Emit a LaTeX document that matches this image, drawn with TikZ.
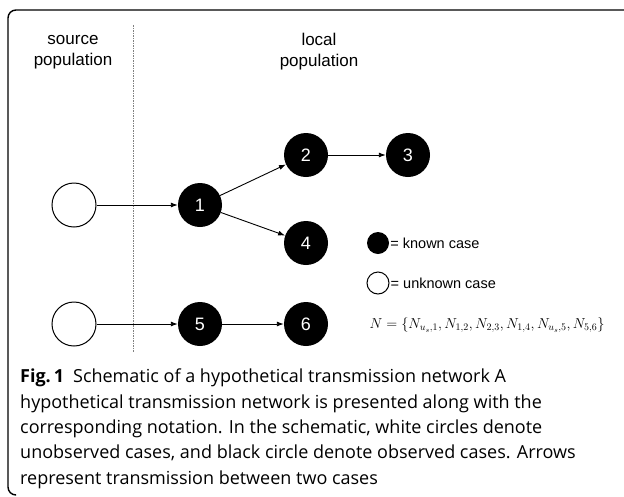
\documentclass[tikz,border=0pt]{standalone}
\usepackage{fontspec}
\setmainfont{Liberation Sans}
\newfontfamily\capfont{Open Sans}
\usetikzlibrary{arrows.meta}
\begin{document}
\begin{tikzpicture}[x=1pt,y=-1pt,
  known/.style={circle,fill=black,minimum size=44pt,inner sep=0pt,text=white,font=\fontsize{18}{18}\selectfont},
  unknown/.style={circle,draw=black,line width=1pt,minimum size=44pt,inner sep=0pt},
  lknown/.style={circle,fill=black,minimum size=22pt,inner sep=0pt},
  lunknown/.style={circle,draw=black,line width=1pt,minimum size=22pt,inner sep=0pt},
  conn/.style={-{Latex[length=7pt,width=5pt]},line width=0.9pt},
  lab/.style={align=center,font=\fontsize{17}{21}\selectfont},
  leg/.style={anchor=west,inner sep=1pt,font=\fontsize{14.5}{16}\selectfont},
  frame/.style={line width=1.4pt,rounded corners=8pt}]
\useasboundingbox (0,0) rectangle (624,496);
\draw[frame] (624,10) -- (8,10) -- (8,495) -- (15,495);
% headers
\node[lab] (src) at (73,52) {source\\population};
\node[lab] (loc) at (319,52) {local\\population};
% divider
\coordinate (dtop) at (133,25);
\coordinate (dbot) at (133,352);
\draw[gray,line width=0.5pt,dash pattern=on 1.5pt off 1pt] (dtop) -- (dbot);
% nodes
\node[unknown] (u1) at (74,205) {};
\node[known] (n1) at (200,205) {1};
\node[known] (n2) at (306,155) {2};
\node[known] (n3) at (408,155) {3};
\node[known] (n4) at (306,243) {4};
\node[unknown] (u2) at (74,324) {};
\node[known] (n5) at (200,324) {5};
\node[known] (n6) at (306,324) {6};
\draw[conn] (u1) -- (n1);
\draw[conn] (n1) -- (n2);
\draw[conn] (n1) -- (n4);
\draw[conn] (n2) -- (n3);
\draw[conn] (u2) -- (n5);
\draw[conn] (n5) -- (n6);
% legend
\node[lknown] (lk) at (378,243) {};
\node[leg] (lkt) at (lk.east) {= known case};
\node[lunknown] (lu) at (378,283) {};
\node[leg] (lut) at (lu.east) {= unknown case};
\node[anchor=west,font=\fontsize{14.3}{16}\selectfont] (form) at (366,325)
  {$N=\left\{N_{u_s,1},N_{1,2},N_{2,3},N_{1,4},N_{u_s,5},N_{5,6}\right\}$};
% caption
\node[anchor=north west,align=left,inner sep=0pt,font=\capfont\fontsize{18}{25.3}\selectfont] (cap) at (20,369)
  {\textbf{Fig.\,1}\enspace Schematic of a hypothetical transmission network A\\
   hypothetical transmission network is presented along with the\\
   corresponding notation. In the schematic, white circles denote\\
   unobserved cases, and black circle denote observed cases. Arrows\\
   represent transmission between two cases};
\end{tikzpicture}
\end{document}
